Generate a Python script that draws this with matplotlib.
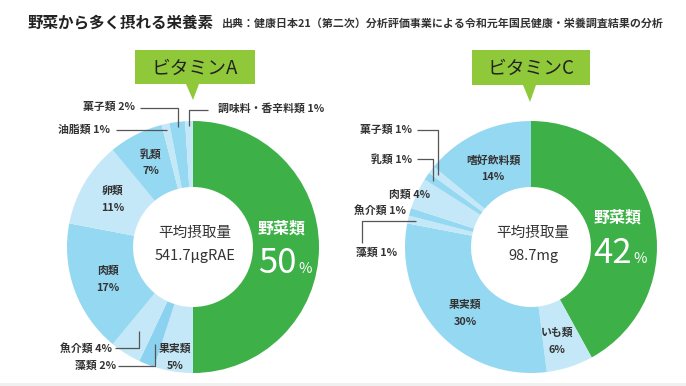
import numpy as np
import matplotlib
matplotlib.use("Agg")
import matplotlib.pyplot as plt
from matplotlib.patches import Polygon, Rectangle

plt.rcParams['font.family'] = ['Noto Sans CJK JP', 'DejaVu Sans']

# Data
title = "野菜から多く摂れる栄養素"
source = "出典：健康日本21（第二次）分析評価事業による令和元年国民健康・栄養調査結果の分析"

vit_a_labels = ['野菜類', '果実類', '藻類', '魚介類', '肉類', '卵類', '乳類', '油脂類', '菓子類', '調味料・香辛料類']
vit_a_values = [50, 5, 2, 4, 17, 11, 7, 1, 2, 1]
vit_a_avg = "541.7μgRAE"

vit_c_labels = ['野菜類', 'いも類', '果実類', '藻類', '魚介類', '肉類', '乳類', '菓子類', '嗜好飲料類']
vit_c_values = [42, 6, 30, 1, 1, 4, 1, 1, 14]
vit_c_avg = "98.7mg"

# Colours
GREEN = '#3db148'
MID = '#95d8f2'
LIGHT = '#c4e8f7'
DARK = '#8ad2ef'
BADGE = '#8fc93a'
TXT = '#333333'
LINE = '#555555'

vit_a_colors = [GREEN, LIGHT, DARK, LIGHT, MID, LIGHT, MID, LIGHT, MID, LIGHT]
vit_c_colors = [GREEN, LIGHT, MID, LIGHT, MID, LIGHT, MID, LIGHT, MID]

W, H = 686, 386
fig = plt.figure(figsize=(W / 100, H / 100), dpi=100)
ax = fig.add_axes([0, 0, 1, 1])

R_OUT, R_IN = 126, 60
ca = (193, 247)
cc = (531, 247)


def donut(center, values, colors):
    # y axis is inverted later, so startangle -90 + counterclock = clockwise from top on screen
    ax.pie(values, colors=colors, startangle=-90, counterclock=True,
           radius=R_OUT, center=center,
           wedgeprops=dict(width=R_OUT - R_IN, linewidth=0))


def slice_point(center, values, i, r):
    cum = np.cumsum([0] + list(values))
    mid = (cum[i] + cum[i + 1]) / 2 / cum[-1] * 2 * np.pi
    return center[0] + r * np.sin(mid), center[1] - r * np.cos(mid)


donut(ca, vit_a_values, vit_a_colors)
donut(cc, vit_c_values, vit_c_colors)

ax.set_xlim(0, W)
ax.set_ylim(H, 0)
ax.set_aspect('equal')
ax.axis('off')

# bottom strip
ax.add_patch(Rectangle((0, 383), W, 3, color='#f0f0f0', lw=0))

# title and source
ax.text(27, 22, title, fontsize=11.2, fontweight='bold', color='#222222', va='center', ha='left')
ax.text(222, 23, source, fontsize=7.9, fontweight='bold', color='#333333', va='center', ha='left')


def badge(x0, x1, y0, y1, tip, text):
    tx, ty = tip
    pts = [(x0, y0), (x1, y0), (x1, y1), (tx + 6, y1), (tx, ty), (tx - 7, y1), (x0, y1)]
    ax.add_patch(Polygon(pts, closed=True, color=BADGE, lw=0))
    ax.text((x0 + x1) / 2, (y0 + y1) / 2 + 1, text, fontsize=13.5, color='#222222',
            ha='center', va='center')


badge(135, 255, 50, 84, (193, 100), "ビタミンA")
badge(472, 590, 50, 85, (530, 102), "ビタミンC")

lab = dict(fontsize=7.8, fontweight='bold', color=TXT)


def two_line(x, y, name, val):
    ax.text(x, y, name, ha='center', va='center', **lab)
    ax.text(x, y + 17, f"{val}%", ha='center', va='center', **lab)


def center_text(c, avg):
    ax.text(c[0] + 2, c[1] - 14, "平均摂取量", fontsize=10.5, color=TXT, ha='center', va='center')
    ax.text(c[0] + 2, c[1] + 9, avg, fontsize=10.5, color=TXT, ha='center', va='center')


def big_pct(x, ytop, name, val, baseline):
    ax.text(x, ytop, name, fontsize=11.5, fontweight='bold', color='white', ha='center', va='center')
    ax.text(x + 15, baseline, str(val), fontsize=25, color='white', ha='right', va='baseline')
    ax.text(x + 16, baseline, "%", fontsize=10.5, color='white', ha='left', va='baseline')


def leader_h(center, values, i, r, text_x, text_y, elbow='hv'):
    px, py = slice_point(center, values, i, r)
    if elbow == 'hv':
        xs, ys = [text_x, px, px], [text_y, text_y, py]
    else:
        xs, ys = [px, text_x, text_x], [py, py, text_y]
    ax.plot(xs, ys, color=LINE, lw=0.9, solid_capstyle='butt')


# --- Vitamin A ---
center_text(ca, vit_a_avg)
big_pct(282, 229, vit_a_labels[0], vit_a_values[0], 273)
two_line(175, 349, vit_a_labels[1], vit_a_values[1])
two_line(108, 271, vit_a_labels[4], vit_a_values[4])
two_line(113, 191, vit_a_labels[5], vit_a_values[5])
two_line(151, 154, vit_a_labels[6], vit_a_values[6])

# small slices with leaders
ax.text(112, 348, f"{vit_a_labels[3]} {vit_a_values[3]}%", ha='right', va='center', **lab)
leader_h(ca, vit_a_values, 3, 100, 115, 348)
ax.text(116, 366, f"{vit_a_labels[2]} {vit_a_values[2]}%", ha='right', va='center', **lab)
leader_h(ca, vit_a_values, 2, 104, 118, 366)
ax.text(110, 130, f"{vit_a_labels[7]} {vit_a_values[7]}%", ha='right', va='center', **lab)
leader_h(ca, vit_a_values, 7, 120, 116, 130)
ax.text(135, 107, f"{vit_a_labels[8]} {vit_a_values[8]}%", ha='right', va='center', **lab)
leader_h(ca, vit_a_values, 8, 121, 140, 108)
ax.text(218, 108, f"{vit_a_labels[9]} {vit_a_values[9]}%", ha='left', va='center', **lab)
leader_h(ca, vit_a_values, 9, 121, 208, 110)

# --- Vitamin C ---
center_text(cc, vit_c_avg)
big_pct(617, 218, vit_c_labels[0], vit_c_values[0], 263)
two_line(557, 333, vit_c_labels[1], vit_c_values[1])
two_line(465, 305, vit_c_labels[2], vit_c_values[2])
two_line(493, 160, vit_c_labels[8], vit_c_values[8])

ax.text(412, 130, f"{vit_c_labels[7]} {vit_c_values[7]}%", ha='right', va='center', **lab)
leader_h(cc, vit_c_values, 7, 118, 417, 130)
ax.text(412, 159, f"{vit_c_labels[6]} {vit_c_values[6]}%", ha='right', va='center', **lab)
leader_h(cc, vit_c_values, 6, 118, 417, 159)
ax.text(410, 195, f"{vit_c_labels[5]} {vit_c_values[5]}%", ha='center', va='center', **lab)
ax.text(380, 210, f"{vit_c_labels[4]} {vit_c_values[4]}%", ha='center', va='center', **lab)
ax.text(377, 253, f"{vit_c_labels[3]} {vit_c_values[3]}%", ha='center', va='center', **lab)
leader_h(cc, vit_c_values, 3, 118, 362, 243, elbow='vh')

fig.savefig("out.png", dpi=100)
